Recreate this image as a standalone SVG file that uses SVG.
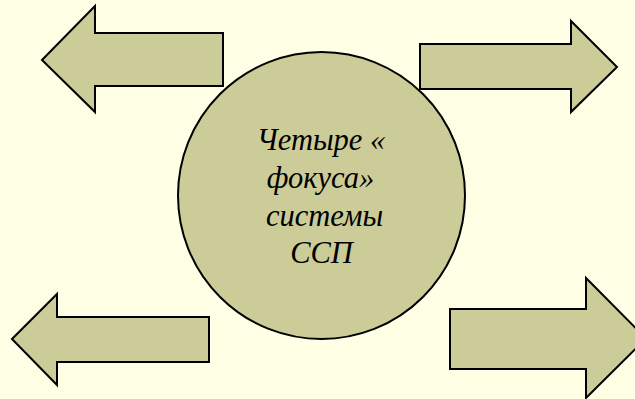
<svg xmlns="http://www.w3.org/2000/svg" width="635" height="399" viewBox="0 0 635 399">
<style>
.shape{fill:#CCCC99;stroke:#000;stroke-width:2;stroke-linejoin:miter}
.lbl{font-family:"Liberation Serif","Times New Roman",serif;font-style:italic;font-size:30.5px;fill:#000;text-anchor:middle}
.frag{font-family:"Liberation Sans",Arial,sans-serif;font-size:18px;fill:#333}
</style>
<rect width="635" height="399" fill="#FFFFE5"/>
<g id="center">
<circle class="shape" cx="321.5" cy="195.5" r="143.5"/>
<text class="lbl" x="321" y="150">Четыре «</text>
<text class="lbl" x="320.5" y="188">фокуса»</text>
<text class="lbl" x="324.5" y="226">системы</text>
<text class="lbl" x="321.5" y="263">ССП</text>
</g>
<g id="arrow-top-left">
<polygon class="shape" points="42,60 95,6 95,33 223,33 223,86 95,86 95,112"/>
</g>
<g id="arrow-top-right">
<polygon class="shape" points="420,44 571,44 571,21 617,67 571,112 571,89 420,89"/>
</g>
<g id="arrow-bottom-left">
<polygon class="shape" points="12,339 57,294 57,317 209,317 209,362 57,362 57,385"/>
</g>
<g id="arrow-bottom-right">
<polygon class="shape" points="450,309 586,309 586,278 646,338.5 586,398 586,369 450,369"/>
</g>
<g id="connectors"></g>
<text class="frag" x="-4" y="383">:</text>
</svg>
